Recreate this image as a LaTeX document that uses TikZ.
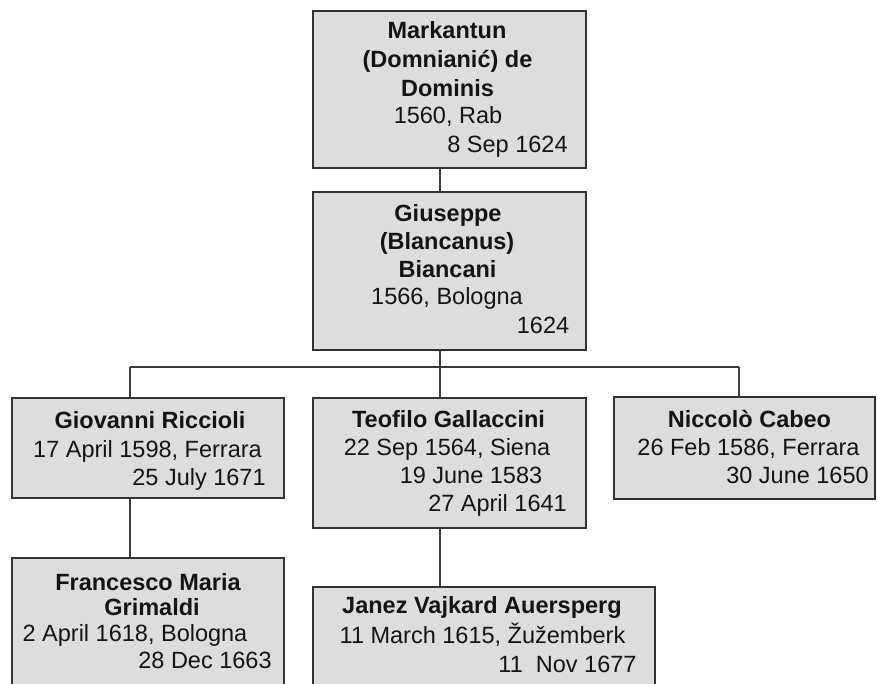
\documentclass[tikz,border=0pt]{standalone}
\usepackage{fontspec}
\setmainfont{Liberation Sans}
\definecolor{boxfill}{RGB}{221,221,221}
\definecolor{boxline}{RGB}{50,50,50}
\definecolor{conn}{RGB}{60,60,60}
\definecolor{txt}{RGB}{20,20,20}
\tikzset{
  box/.style={draw=boxline, fill=boxfill, line width=2pt, rectangle, inner sep=0pt, anchor=north west},
  ln/.style={anchor=base, inner sep=0pt, text=txt, font=\fontsize{23.5}{28}\selectfont},
  nm/.style={ln, font=\fontsize{23.5}{28}\selectfont\bfseries},
  link/.style={draw=conn, line width=2pt}
}
\begin{document}
\begin{tikzpicture}[x=1pt,y=-1pt]
\path[use as bounding box, clip] (0,0) rectangle (877,684);
% boxes
\node[box, minimum width=273pt, minimum height=157pt] (A) at (311.5,10) {};
\node[box, minimum width=273pt, minimum height=158pt] (B) at (311.5,191) {};
\node[box, minimum width=272.5pt, minimum height=100pt] (C) at (10.5,397) {};
\node[box, minimum width=273pt, minimum height=130pt] (D) at (311.5,397) {};
\node[box, minimum width=261pt, minimum height=102pt] (E) at (613,396) {};
\node[box, minimum width=272.5pt, minimum height=140pt] (F) at (10.5,557) {};
\node[box, minimum width=342pt, minimum height=110pt] (G) at (311.5,586) {};
% connector coordinates
\coordinate (mid) at (440,0);
\coordinate (lft) at (130,0);
\coordinate (rgt) at (739,0);
\coordinate (barL) at (130,367);
\coordinate (barR) at (739,367);
\coordinate (barM) at (440,367);
% connectors
\draw[link] (A.south -| mid) -- (B.north -| mid);
\draw[link] (B.south -| mid) -- (barM);
\draw[link] (barL) -- (barR);
\draw[link] (barL) -- (C.north -| lft);
\draw[link] (barM) -- (D.north -| mid);
\draw[link] (barR) -- (E.north -| rgt);
\draw[link] (C.south -| lft) -- (F.north -| lft);
\draw[link] (D.south -| mid) -- (G.north -| mid);
% texts A
\node[nm] (a1) at (447,39) {Markantun};
\node[nm] (a2) at (447.5,68) {(Domnianić) de};
\node[nm] (a3) at (447.5,97) {Dominis};
\node[ln] (a4) at (448,124) {1560, Rab};
\node[ln] (a5) at (507.5,153) {8 Sep 1624};
% texts B
\node[nm] (b1) at (448,222) {Giuseppe};
\node[nm] (b2) at (447,250) {(Blancanus)};
\node[nm] (b3) at (447.5,278) {Biancani};
\node[ln] (b4) at (447,305) {1566, Bologna};
\node[ln] (b5) at (543,333) {1624};
% texts C
\node[nm] (c1) at (150,428) {Giovanni Riccioli};
\node[ln] (c2) at (147.5,457) {17 April 1598, Ferrara};
\node[ln] (c3) at (199,485) {25 July 1671};
% texts D
\node[nm] (d1) at (448.5,427) {Teofilo Gallaccini};
\node[ln] (d2) at (447,455) {22 Sep 1564, Siena};
\node[ln] (d3) at (471,483) {19 June 1583};
\node[ln] (d4) at (497.5,511) {27 April 1641};
% texts E
\node[nm] (e1) at (749.5,427) {Niccolò Cabeo};
\node[ln] (e2) at (748.5,455) {26 Feb 1586, Ferrara};
\node[ln] (e3) at (797.5,483) {30 June 1650};
% texts F
\node[nm] (f1) at (148,590) {Francesco Maria};
\node[nm] (f2) at (152,615) {Grimaldi};
\node[ln] (f3) at (135,641) {2 April 1618, Bologna};
\node[ln] (f4) at (205,668) {28 Dec 1663};
% texts G
\node[nm] (g1) at (482,613) {Janez Vajkard Auersperg};
\node[ln] (g2) at (482.5,643) {11 March 1615, Žužemberk};
\node[ln] (g3) at (567.5,672) {11\ \ Nov 1677};
\end{tikzpicture}
\end{document}
